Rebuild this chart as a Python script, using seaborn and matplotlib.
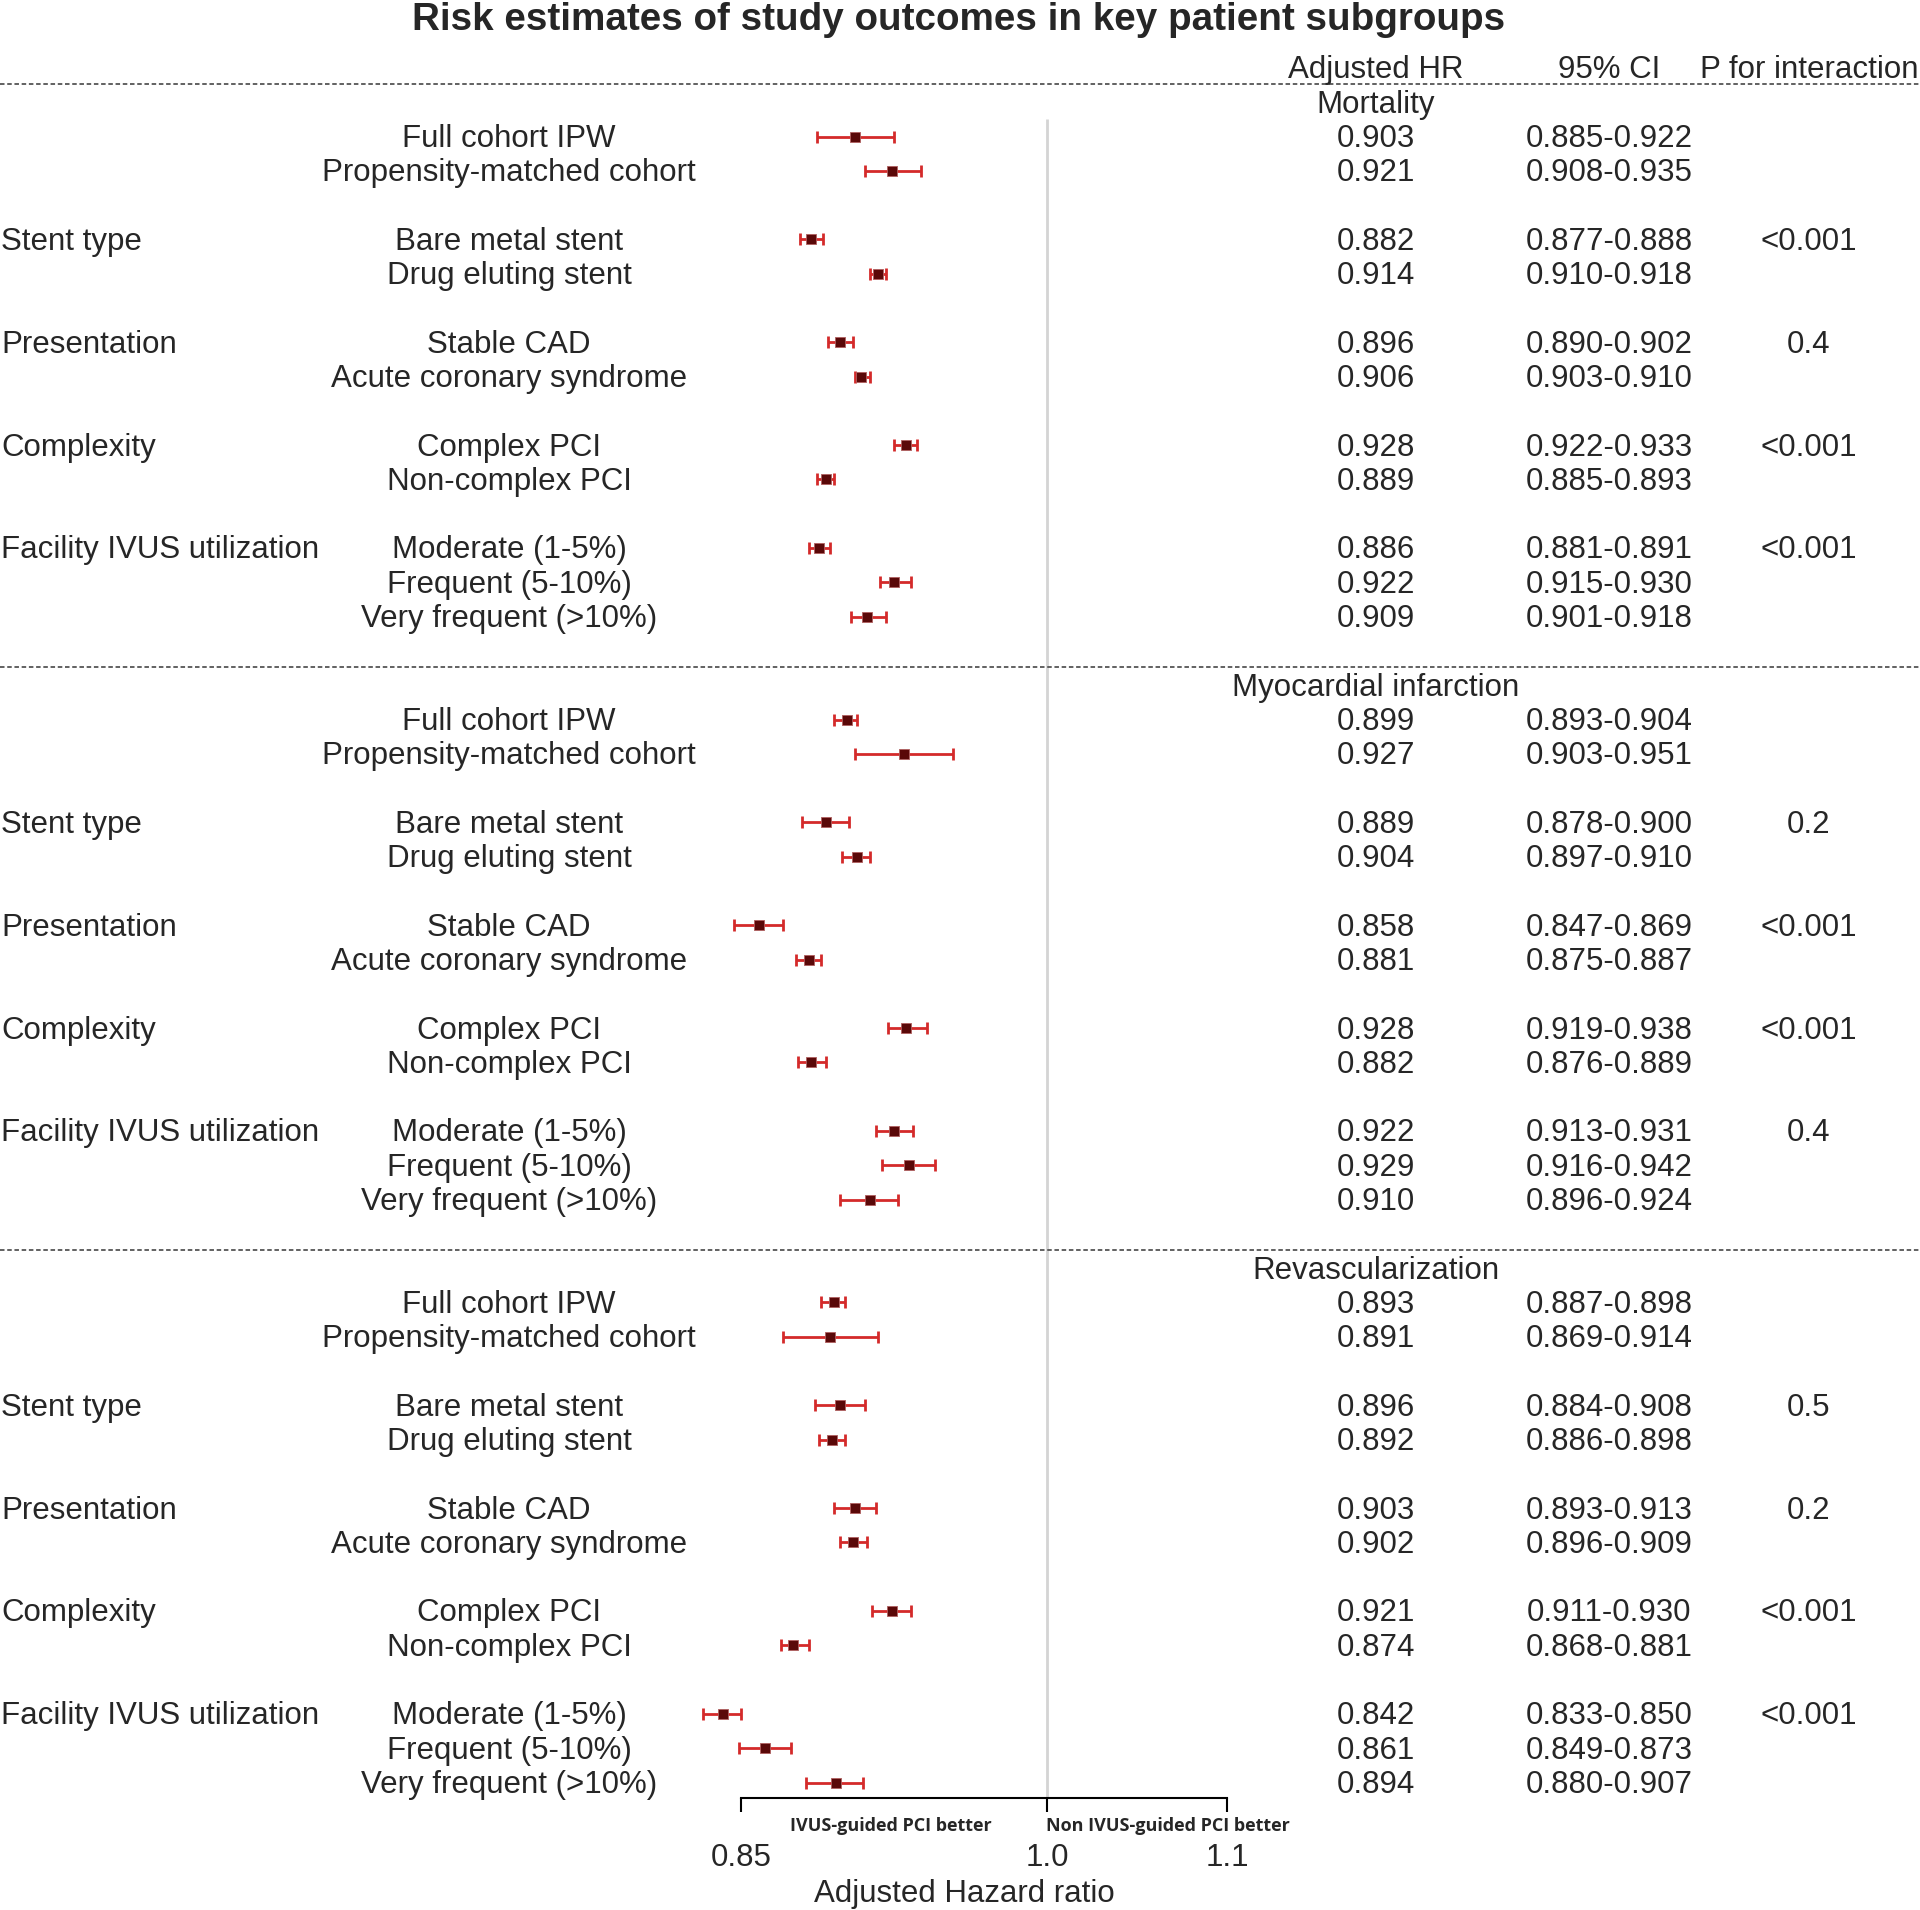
import numpy as np
import pandas as pd
import matplotlib
matplotlib.use("Agg")
import matplotlib.pyplot as plt
import matplotlib.transforms as mtransforms
import seaborn as sns

sns.set_theme(style="white")
plt.rcParams['font.family'] = ['Liberation Sans', 'DejaVu Sans']

# ---------------- data ----------------
title = "Risk estimates of study outcomes in key patient subgroups"
outcomes = ["Mortality", "Myocardial infarction", "Revascularization"]
subgroups = ["Full cohort IPW", "Propensity-matched cohort",
             "Bare metal stent", "Drug eluting stent",
             "Stable CAD", "Acute coronary syndrome",
             "Complex PCI", "Non-complex PCI",
             "Moderate (1-5%)", "Frequent (5-10%)", "Very frequent (>10%)"]
group_names = ["Stent type", "Presentation", "Complexity", "Facility IVUS utilization"]

hr_mortality = [0.903, 0.921, 0.882, 0.914, 0.896, 0.906, 0.928, 0.889, 0.886, 0.922, 0.909]
lo_mortality = [0.885, 0.908, 0.877, 0.910, 0.890, 0.903, 0.922, 0.885, 0.881, 0.915, 0.901]
hi_mortality = [0.922, 0.935, 0.888, 0.918, 0.902, 0.910, 0.933, 0.893, 0.891, 0.930, 0.918]
p_mortality = ["<0.001", "0.4", "<0.001", "<0.001"]

hr_mi = [0.899, 0.927, 0.889, 0.904, 0.858, 0.881, 0.928, 0.882, 0.922, 0.929, 0.910]
lo_mi = [0.893, 0.903, 0.878, 0.897, 0.847, 0.875, 0.919, 0.876, 0.913, 0.916, 0.896]
hi_mi = [0.904, 0.951, 0.900, 0.910, 0.869, 0.887, 0.938, 0.889, 0.931, 0.942, 0.924]
p_mi = ["0.2", "<0.001", "<0.001", "0.4"]

hr_revasc = [0.893, 0.891, 0.896, 0.892, 0.903, 0.902, 0.921, 0.874, 0.842, 0.861, 0.894]
lo_revasc = [0.887, 0.869, 0.884, 0.886, 0.893, 0.896, 0.911, 0.868, 0.833, 0.849, 0.880]
hi_revasc = [0.898, 0.914, 0.908, 0.898, 0.913, 0.909, 0.930, 0.881, 0.850, 0.873, 0.907]
p_revasc = ["0.5", "0.2", "<0.001", "<0.001"]

x_ticks = [0.85, 1.0, 1.1]
x_tick_labels = ["0.85", "1.0", "1.1"]
x_label = "Adjusted Hazard ratio"
left_note = "IVUS-guided PCI better"
right_note = "Non IVUS-guided PCI better"
col_headers = ["Adjusted HR", "95% CI", "P for interaction"]

# ---------------- layout ----------------
sub_offsets = [1, 2, 4, 5, 7, 8, 10, 11, 13, 14, 15]
group_offsets = [4, 7, 10, 13]
section_step = 17

rows = []
for s, (name, hr, lo, hi) in enumerate(zip(outcomes,
                                         [hr_mortality, hr_mi, hr_revasc],
                                         [lo_mortality, lo_mi, lo_revasc],
                                         [hi_mortality, hi_mi, hi_revasc])):
    base = 1 + section_step * s
    for k in range(len(subgroups)):
        rows.append(dict(outcome=name, subgroup=subgroups[k], hr=hr[k], lo=lo[k], hi=hi[k],
                         row=base + sub_offsets[k]))
df = pd.DataFrame(rows)

W, H, DPI = 1920, 1910, 100
fig = plt.figure(figsize=(W / DPI, H / DPI), dpi=DPI)

# pixel geometry
px_085, px_110 = 741.0, 1227.0
k = (px_110 - px_085) / (np.log(1.1) - np.log(0.85))
xmin = np.exp(np.log(0.85) - px_085 / k)
xmax = np.exp(np.log(1.1) + (W - px_110) / k)

row0_px, row_step = 68.0, 34.29
axis_px = 1798.0
ax = fig.add_axes([0, (H - axis_px) / H, 1, axis_px / H])
ax.set_xscale("log")
ax.set_xlim(xmin, xmax)
ytop = (0 - row0_px) / row_step
ybot = (axis_px - row0_px) / row_step
ax.set_ylim(ybot, ytop)

# reference line at 1.0
ax.vlines(1.0, 1.5, ybot, color="#d4d4d4", lw=2, zorder=1)

# dashed separators
for yy in [0.47, 17.47, 34.47]:
    ax.axhline(yy, color="#555555", lw=1.3, ls=(0, (2.5, 1.5)), zorder=1)

# CIs
ax.errorbar(df["hr"], df["row"], xerr=[df["hr"] - df["lo"], df["hi"] - df["hr"]],
            fmt="none", ecolor="#d42a2a", elinewidth=2, capsize=4.5, capthick=2, zorder=2)
sns.scatterplot(data=df, x="hr", y="row", marker="s", s=55, color="#5a0808",
                edgecolor="#b06060", linewidth=0.6, ax=ax, zorder=3, legend=False)

# axis styling
for sp in ["top", "left", "right"]:
    ax.spines[sp].set_visible(False)
ax.spines["bottom"].set_bounds(0.85, 1.1)
ax.spines["bottom"].set_color("black")
ax.spines["bottom"].set_linewidth(1.5)
ax.set_xticks(x_ticks)
ax.set_xticklabels(x_tick_labels)
ax.xaxis.set_minor_locator(matplotlib.ticker.NullLocator())
ax.tick_params(axis="x", which="major", direction="out", length=10, width=1.5,
               color="black", labelsize=22.5, pad=22.5, bottom=True)
ax.set_yticks([])
ax.set_xlabel("")
ax.set_ylabel("")
ax.grid(False)

fs = 22.5
toff = 0.07  # text vertical offset (rows) for visual centering
trans = mtransforms.blended_transform_factory(fig.transFigure, ax.transData)
x_sub = 509 / W
x_hr = 1376 / W
x_ci = 1609 / W
x_p = 1809 / W

# headers
for txt, xx in zip(col_headers, [x_hr, x_ci, x_p]):
    ax.text(xx, 0 + toff, txt, transform=trans, ha="center", va="center", fontsize=fs)

p_lists = [p_mortality, p_mi, p_revasc]
for s, name in enumerate(outcomes):
    base = 1 + section_step * s
    ax.text(x_hr, base + toff, name, transform=trans, ha="center", va="center", fontsize=fs)
    for g, gname in enumerate(group_names):
        ax.text(1 / W, base + group_offsets[g] + toff, gname, transform=trans,
                ha="left", va="center", fontsize=fs)
        ax.text(x_p, base + group_offsets[g] + toff, p_lists[s][g], transform=trans,
                ha="center", va="center", fontsize=fs)

for _, r in df.iterrows():
    y = r["row"] + toff
    ax.text(x_sub, y, r["subgroup"], transform=trans, ha="center", va="center", fontsize=fs)
    ax.text(x_hr, y, f"{r['hr']:.3f}", transform=trans, ha="center", va="center", fontsize=fs)
    ax.text(x_ci, y, f"{r['lo']:.3f}-{r['hi']:.3f}", transform=trans,
            ha="center", va="center", fontsize=fs)

# direction notes
fig.text(891 / W, 1 - 1826 / H, left_note, ha="center", va="center",
         fontsize=13, fontweight="bold", family=["Open Sans", "DejaVu Sans"])
fig.text(1168 / W, 1 - 1826 / H, right_note, ha="center", va="center",
         fontsize=13, fontweight="bold", family=["Open Sans", "DejaVu Sans"])

fig.text(964 / W, 1 - 1894 / H, x_label, ha="center", va="center", fontsize=fs)
fig.text(959 / W, 1 - 19.5 / H, title, ha="center", va="center",
         fontsize=27.8, fontweight="bold")

fig.savefig("out.png", dpi=DPI)
